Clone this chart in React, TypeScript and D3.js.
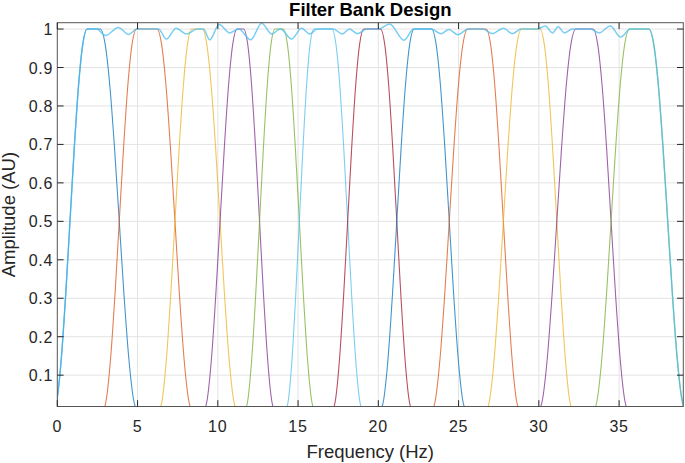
import React from "react";
import * as d3 from "d3";

// 0.5 crossings and half-widths of each band edge (Hz)
const RISE_MID = [0.79, 3.86, 7.33, 10.14, 12.6, 15.08, 18.09, 21.15, 24.42, 27.79, 31.12, 34.5];
const RISE_HW = [1.07, 1.07, 1.05, 1.06, 0.96, 0.9, 1.0, 1.08, 1.14, 1.13, 1.18, 1.14];
const FALL_MID = [3.86, 7.33, 10.14, 12.6, 15.08, 18.09, 21.15, 24.42, 27.79, 31.12, 34.5, 38.03];
const FALL_HW = [1.18, 1.12, 1.11, 0.99, 1.0, 0.98, 1.01, 1.1, 1.07, 1.05, 1.12, 1.17];

// normalised shape of a rising edge (offset in half-widths, amplitude)
const EDGE_T = [-1, -0.75, -0.5, -0.25, 0, 0.25, 0.5, 0.75, 1];
const EDGE_V = [0, 0.038, 0.146, 0.309, 0.5, 0.691, 0.854, 0.962, 1];

// summed response along the pass band (Hz, amplitude)
const SUM_F = [
  2.45, 3.0, 3.8, 4.45, 4.95, 6.3, 6.8, 7.4, 8.05, 8.7, 9.1, 9.5, 10.08, 10.75, 11.3,
  12.05, 12.73, 13.36, 13.9, 14.6, 15.22, 15.74, 16.2, 17.2, 17.75, 18.2, 18.7, 19.3,
  20.0, 20.7, 21.6, 22.2, 23.3, 23.9, 24.4, 24.95, 25.6, 26.5, 27.1, 27.8, 28.35, 28.9,
  29.9, 30.4, 30.85, 31.2, 31.6, 32.1, 33.2, 33.75, 34.45, 35.1, 35.7,
];
const SUM_V = [
  1.0, 0.983, 1.004, 0.986, 1.0, 1.0, 0.974, 1.002, 0.987, 1.0, 1.0, 0.972, 1.012, 0.99, 1.0,
  0.972, 1.015, 0.987, 1.0, 0.974, 1.002, 0.987, 1.0, 1.0, 0.987, 1.0, 0.988, 1.0,
  1.0, 1.013, 0.971, 1.0, 1.0, 0.988, 0.999, 0.985, 1.0, 1.0, 0.988, 1.002, 0.988, 1.0,
  1.0, 1.008, 0.99, 1.006, 0.99, 1.0, 1.0, 0.99, 1.008, 0.979, 1.0,
];

const X_TICKS = [0, 5, 10, 15, 20, 25, 30, 35];
const Y_TICKS = [0.1, 0.2, 0.3, 0.4, 0.5, 0.6, 0.7, 0.8, 0.9, 1];
const COLORS = ["#0072BD", "#D95319", "#EDB120", "#7E2F8E", "#77AC30", "#4DBEEE", "#A2142F"];

const W = 685;
const H = 463;
const margin = { top: 22.7, right: 1.7, bottom: 56.5, left: 57.3 };

type Pt = [number, number];

const riseEdge = (mid: number, hw: number): Pt[] =>
  EDGE_T.map((t, k) => [mid + t * hw, EDGE_V[k]]);
const fallEdge = (mid: number, hw: number): Pt[] =>
  EDGE_T.map((t, k) => [mid + t * hw, EDGE_V[EDGE_T.length - 1 - k]]);

export default function App() {
  const x = d3.scaleLinear().domain([0, 39]).range([margin.left, W - margin.right]);
  const y = d3.scaleLinear().domain([0.0185, 1.0165]).range([H - margin.bottom, margin.top]);
  const x0 = x.range()[0];
  const x1 = x.range()[1];
  const y0 = y.range()[0];
  const y1 = y.range()[1];

  const line = d3
    .line<Pt>()
    .x((d) => x(d[0]))
    .y((d) => y(d[1]))
    .curve(d3.curveMonotoneX);

  const filters = RISE_MID.map((m, i) => [
    ...riseEdge(m, RISE_HW[i]),
    ...fallEdge(FALL_MID[i], FALL_HW[i]),
  ]);

  const n = RISE_MID.length - 1;
  const sum: Pt[] = [
    ...riseEdge(RISE_MID[0], RISE_HW[0]),
    ...SUM_F.map((f, k) => [f, SUM_V[k]] as Pt),
    ...fallEdge(FALL_MID[n], FALL_HW[n]),
  ];

  const tick = 6.3;
  const axisColor = "#262626";
  const font = "'Liberation Sans', Arial, sans-serif";

  return (
    <svg
      width={W}
      height={H}
      style={{ position: "absolute", left: 0, top: 0, background: "#fff" }}
      fontFamily={font}
    >
      <defs>
        <clipPath id="plot">
          <rect x={x0} y={y1} width={x1 - x0} height={y0 - y1} />
        </clipPath>
      </defs>

      {/* grid */}
      <g stroke="#e3e3e3" strokeWidth={1}>
        {X_TICKS.filter((t) => t > 0).map((t) => (
          <line key={"gx" + t} x1={x(t)} x2={x(t)} y1={y1} y2={y0} />
        ))}
        {Y_TICKS.map((t) => (
          <line key={"gy" + t} x1={x0} x2={x1} y1={y(t)} y2={y(t)} />
        ))}
      </g>

      {/* filter responses */}
      <g clipPath="url(#plot)" fill="none">
        {filters.map((pts, i) => (
          <path
            key={i}
            d={line(pts) || ""}
            stroke={COLORS[i % COLORS.length]}
            strokeWidth={1.1}
            strokeOpacity={0.75}
          />
        ))}
        <path d={line(sum) || ""} stroke="#4DBEEE" strokeWidth={1.5} strokeOpacity={0.75} />
      </g>

      {/* box + ticks */}
      <g stroke={axisColor} strokeWidth={1} fill="none">
        <rect x={x0} y={y1} width={x1 - x0} height={y0 - y1} stroke="#555" />
        {X_TICKS.map((t) => (
          <g key={"tx" + t}>
            <line x1={x(t)} x2={x(t)} y1={y0} y2={y0 - tick} />
            <line x1={x(t)} x2={x(t)} y1={y1} y2={y1 + tick} />
          </g>
        ))}
        {Y_TICKS.map((t) => (
          <g key={"ty" + t}>
            <line x1={x0} x2={x0 + tick} y1={y(t)} y2={y(t)} />
            <line x1={x1} x2={x1 - tick} y1={y(t)} y2={y(t)} />
          </g>
        ))}
      </g>

      {/* tick labels */}
      <g fill={axisColor} fontSize={16} letterSpacing={0.8}>
        {X_TICKS.map((t) => (
          <text key={"lx" + t} x={x(t)} y={431.5} textAnchor="middle">
            {t}
          </text>
        ))}
        {Y_TICKS.map((t) => (
          <text key={"ly" + t} x={x0 - 4} y={y(t) + 6} textAnchor="end">
            {t}
          </text>
        ))}
      </g>

      {/* labels */}
      <text x={(x0 + x1) / 2} y={458} textAnchor="middle" fontSize={18.5} fill={axisColor}>
        Frequency (Hz)
      </text>
      <text
        transform={`translate(15,${(y0 + y1) / 2}) rotate(-90)`}
        textAnchor="middle"
        fontSize={18.5}
        fill={axisColor}
      >
        Amplitude (AU)
      </text>
      <text
        x={(x0 + x1) / 2}
        y={15.5}
        textAnchor="middle"
        fontSize={18.5}
        fontWeight="bold"
        fill="#000"
      >
        Filter Bank Design
      </text>
    </svg>
  );
}
